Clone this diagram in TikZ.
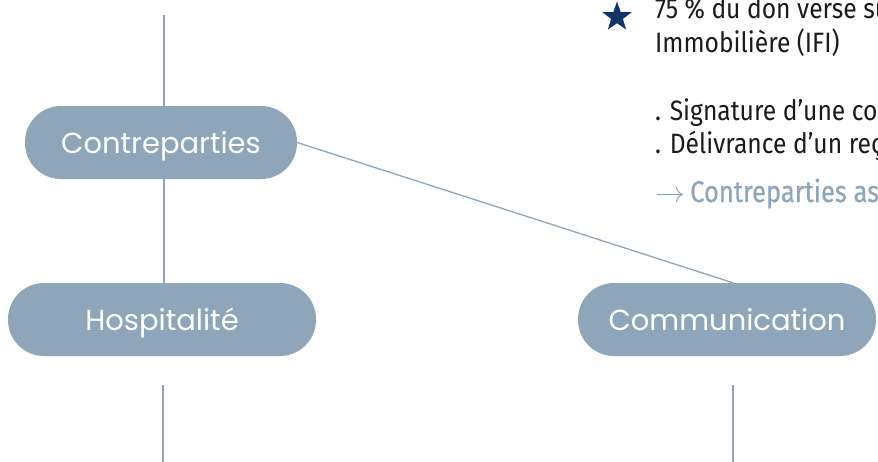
\RequirePackage{fix-cm}
\documentclass[tikz,border=0pt]{standalone}
\usepackage{fontspec}
\setmainfont[FakeStretch=0.88]{Fira Sans}
\newfontfamily\nodefont{Poppins}
\newfontfamily\arrowfont[FakeStretch=0.85,FakeBold=0.3]{Fira Sans}
\usetikzlibrary{shapes.geometric}
\definecolor{slate}{HTML}{8FA5BA}
\definecolor{navy}{HTML}{13336B}
\definecolor{ink}{HTML}{1A1A1A}
\tikzset{
  pill/.style={fill=slate, rounded corners=36pt, minimum height=73pt, inner sep=0pt,
    text=white, text height=26pt, text depth=5pt, font=\nodefont\fontsize{29}{34}\selectfont},
  link/.style={draw=slate, line width=1.3pt},
  body/.style={anchor=base west, inner sep=0pt, text=ink, font=\fontsize{28}{34}\selectfont},
}
\begin{document}
\begin{tikzpicture}[x=1pt,y=-1pt]
\useasboundingbox (0,0) rectangle (878,461);
\clip (0,0) rectangle (878,461);
\fill[white] (0,0) rectangle (878,461);
% nodes
\node[pill, minimum width=272pt] (contre) at (161,142.5) {Contreparties};
\node[pill, minimum width=308pt] (hosp) at (162,319.5) {Hospitalité};
\node[pill, minimum width=298pt] (comm) at (727,319.5) {Communication};
% free ends
\coordinate (top) at (164,15);
\coordinate (hb1) at (163,385);
\coordinate (hb2) at (163,470);
\coordinate (cb1) at (733,385);
\coordinate (cb2) at (733,470);
% connectors
\draw[link] (top) -- (top |- contre.north);
\draw[link] (contre.south -| top) -- (hosp.north -| top);
\draw[link] (contre.east) -- ([xshift=6pt]comm.north);
\draw[link] (hb1) -- (hb2);
\draw[link] (cb1) -- (cb2);
% star
\node[star, star points=5, star point ratio=2.5, fill=navy, minimum size=31pt, inner sep=0pt] (star) at (617,17) {};
% texts
\node[body] (t1) at (655,18) {75 \% du don versé su};
\node[body] (t2) at (655,52) {Immobilière (IFI)};
\node[body] (t3) at (655,120) {. Signature d’une con};
\node[body] (t4) at (655,153) {. Délivrance d’un reç};
\node[body, text=slate, font=\arrowfont\fontsize{30}{36}\selectfont] (t5) at (655,202) {$\rightarrow$\,Contreparties as};
\end{tikzpicture}
\end{document}
